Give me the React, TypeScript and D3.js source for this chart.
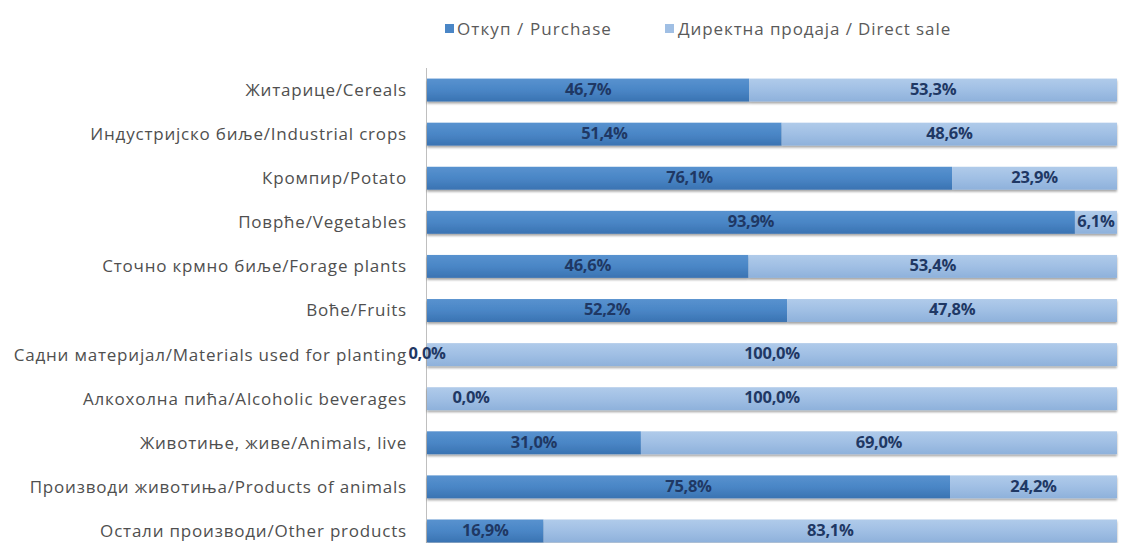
import React from "react";
import * as d3 from "d3";

const categories = [
  "Житарице/Cereals",
  "Индустријско биље/Industrial crops",
  "Кромпир/Potato",
  "Поврће/Vegetables",
  "Сточно крмно биље/Forage plants",
  "Воће/Fruits",
  "Садни материјал/Materials used for planting",
  "Алкохолна пића/Alcoholic beverages",
  "Животиње, живе/Animals, live",
  "Производи животиња/Products of animals",
  "Остали производи/Other products",
];
const purchase = [46.7, 51.4, 76.1, 93.9, 46.6, 52.2, 0.0, 0.0, 31.0, 75.8, 16.9];
const directSale = [53.3, 48.6, 23.9, 6.1, 53.4, 47.8, 100.0, 100.0, 69.0, 24.2, 83.1];
const seriesNames = ["Откуп / Purchase", "Директна продаја / Direct sale"];

const W = 1122;
const H = 543;
const fmt = (v: number) => v.toFixed(1).replace(".", ",") + "%";

export default function App() {
  const x = d3.scaleLinear().domain([0, 100]).range([427, 1117]);
  const y = d3.scaleBand<string>().domain(categories).range([68, 553]).paddingInner(0.48).paddingOuter(0.24);
  const bh = y.bandwidth();
  const font = "'Open Sans', 'DejaVu Sans', sans-serif";
  const zeroLabelX = (i: number) => (i === 6 ? x(0) : 471);

  const labelProps = {
    textAnchor: "middle" as const,
    fontFamily: font,
    fontWeight: "bold" as const,
    fontSize: 16.5,
    fill: "#1f3864",
    letterSpacing: -0.3,
  };

  return (
    <svg width={W} height={H} style={{ position: "absolute", left: 0, top: 0, background: "#fff" }}>
      <defs>
        <linearGradient id="gp" x1="0" y1="0" x2="0" y2="1">
          <stop offset="0" stopColor="#5892cf" />
          <stop offset="0.5" stopColor="#4a86c6" />
          <stop offset="1" stopColor="#3a73b2" />
        </linearGradient>
        <linearGradient id="gd" x1="0" y1="0" x2="0" y2="1">
          <stop offset="0" stopColor="#b0cbea" />
          <stop offset="0.5" stopColor="#a0bfe4" />
          <stop offset="1" stopColor="#8eb1db" />
        </linearGradient>
        <filter id="sh" x="-5%" y="-20%" width="110%" height="160%">
          <feDropShadow dx="0" dy="2" stdDeviation="1.3" floodColor="#000" floodOpacity="0.35" />
        </filter>
      </defs>
      {/* legend */}
      <rect x={445} y={24} width={9} height={9} fill="#4a86c6" />
      <text x={457} y={35} fontFamily={font} fontSize={17} fill="#5a5a5a" letterSpacing={1.1}>{seriesNames[0]}</text>
      <rect x={665} y={24} width={9} height={9} fill="#a0bfe4" />
      <text x={678} y={35} fontFamily={font} fontSize={17} fill="#5a5a5a" letterSpacing={0.9}>{seriesNames[1]}</text>

      {/* axis line */}
      <line x1={426.5} x2={426.5} y1={68} y2={H} stroke="#bfbfbf" strokeWidth={1} />

      {categories.map((c, i) => {
        const y0 = y(c)!;
        const cy = y0 + bh / 2;
        const p = purchase[i];
        const d = directSale[i];
        const x0 = x(0);
        const x1 = x(p);
        const x2 = x(p + d);
        return (
          <g key={c}>
            <text x={407} y={cy} dy="0.35em" textAnchor="end" fontFamily={font} fontSize={17} fill="#4f4f4f" letterSpacing={0.8}>
              {c}
            </text>
            <g filter="url(#sh)">
              {p > 0 && <rect x={x0} y={y0} width={x1 - x0} height={bh} fill="url(#gp)" />}
              <rect x={x1} y={y0} width={x2 - x1} height={bh} fill="url(#gd)" />
            </g>
            <text x={p > 0 ? (x0 + x1) / 2 : zeroLabelX(i)} y={cy - 1} dy="0.35em" {...labelProps}>
              {fmt(p)}
            </text>
            <text x={(x1 + x2) / 2} y={cy - 1} dy="0.35em" {...labelProps}>
              {fmt(d)}
            </text>
          </g>
        );
      })}
    </svg>
  );
}
